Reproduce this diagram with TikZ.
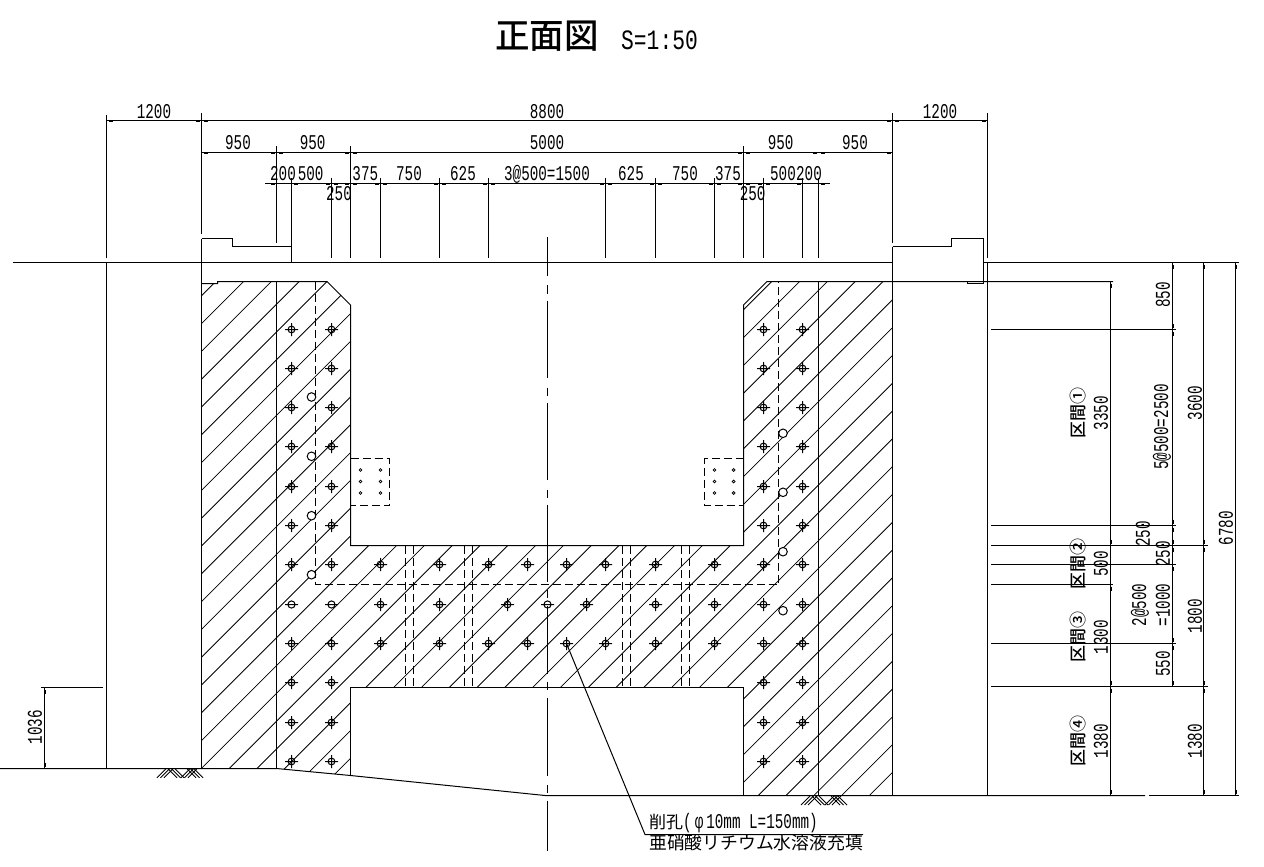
\documentclass[tikz,border=0pt]{standalone}
\usepackage{fontspec}
\newfontfamily\cad[FakeStretch=0.68]{Liberation Mono}
\newfontfamily\cadw[FakeStretch=0.76]{Liberation Mono}
\newfontfamily\cjk{Noto Sans CJK JP}
\newfontfamily\cjkm{Noto Sans CJK JP Medium}
\tikzset{
  ln/.style={line width=1pt,line cap=butt},
  hatchln/.style={line width=0.8pt},
  hid/.style={line width=1pt,dash pattern=on 8pt off 4pt},
  cen/.style={line width=1pt},
  dimt/.style={inner sep=0pt,font=\cad\fontsize{21}{21}\selectfont},
  jpt/.style={inner sep=0pt,font=\cjkm\fontsize{17}{17}\selectfont},
  tick/.style={line width=2pt},
}
\newcommand{\hxL}[2]{\foreach \q in {#2}{\draw[tick] (\q-6,#1)--(\q-2,#1);}}
\newcommand{\hxR}[2]{\foreach \q in {#2}{\draw[tick] (\q+2,#1)--(\q+6,#1);}}
\newcommand{\vxU}[2]{\foreach \q in {#2}{\draw[tick] (#1,\q-6)--(#1,\q-2);}}
\newcommand{\vxD}[2]{\foreach \q in {#2}{\draw[tick] (#1,\q+2)--(#1,\q+6);}}
\newcommand{\holeplus}[2]{\draw[line width=1pt] (#1,#2) circle[radius=3.4pt] (#1-6.5,#2)--(#1+6.5,#2) (#1,#2-6.5)--(#1,#2+6.5);}
\newcommand{\holeminus}[2]{\draw[line width=1pt] (#1,#2) circle[radius=3.6pt] (#1-6.5,#2)--(#1+6.5,#2);}
\newcommand{\groundmark}[2]{\begin{scope}[shift={(#1,#2)},line width=0.8pt]
  \foreach \d in {0,3.5,7,24,27.5,31}{\draw (\d,9)--(\d+9,0);}
  \foreach \d in {11,14.5,18,30,33.5,37}{\draw (\d,0)--(\d+9,9);}
\end{scope}}
\begin{document}
\begin{tikzpicture}[x=1pt,y=-1pt]
\useasboundingbox (0,0) rectangle (1264,867);
\fill[white] (0,0) rectangle (1264,867);
% hatching
\begin{scope}
\clip (201.5,283.5)--(217.5,283.5)--(217.5,281.5)--(327,281.5)--(350.5,305)--(350.5,545.5)--(743.5,545.5)--(743.5,305)--(767,281.5)--(892.5,281.5)--(892.5,795.5)--(743.5,795.5)--(743.5,687.5)--(350.5,687.5)--(350.5,775.5)--(276.5,768.5)--(201.5,768.5)--cycle;
\foreach \k in {-16,...,28}{
  \pgfmathsetmacro{\s}{914.3+27.8*\k}
  \draw[hatchln] (\s-270,270)--(\s-800,800);
}
\end{scope}
% ground and structure
\draw[ln] (13,262.5)--(892.5,262.5);
\draw[ln] (983.5,262.5)--(1239,262.5);
\draw[ln] (0,768.5)--(276.5,768.5)--(350.5,775.5)--(545,795.5)--(1145,795.5);
\draw[ln] (1149,795.5)--(1239,795.5);
\draw[ln] (201.5,113)--(201.5,234);
\draw[ln] (201.5,238.5)--(201.5,768.5);
\draw[ln] (201.5,238.5)--(232.5,238.5)--(232.5,246.5)--(291.5,246.5)--(291.5,262.5);
\draw[ln] (892.5,113)--(892.5,243);
\draw[ln] (892.5,246.5)--(892.5,795.5);
\draw[ln] (892.5,246.5)--(951.5,246.5)--(951.5,238.5)--(983.5,238.5)--(983.5,283.5)--(967.5,283.5)--(967.5,281.5);
\draw[ln] (201.5,283.5)--(217.5,283.5)--(217.5,281.5)--(327,281.5)--(350.5,305)--(350.5,545.5)--(743.5,545.5)--(743.5,305)--(767,281.5)--(1113,281.5);
\draw[ln] (350.5,775.5)--(350.5,687.5)--(743.5,687.5)--(743.5,795.5);
\draw[ln] (276.5,146)--(276.5,243);
\draw[ln] (276.5,281.5)--(276.5,768.5);
\draw[ln] (818.5,178)--(818.5,258);
\draw[ln] (818.5,281.5)--(818.5,795.5);
\draw[ln] (106.5,115)--(106.5,257.5);
\draw[ln] (106.5,262.5)--(106.5,768.5);
\draw[ln] (987.5,113)--(987.5,258);
\draw[ln] (987.5,262.5)--(987.5,795.5);
% extension lines at the top
\draw[ln] (350.5,146)--(350.5,258);
\draw[ln] (743.5,146)--(743.5,258);
\draw[ln] (291.5,178)--(291.5,246.5);
\foreach \x in {331.5,380.5,439.5,488.5,605.5,655.5,714.5,763.5,802.5}{\draw[ln] (\x,178)--(\x,258);}
% dimension lines at the top
\draw[ln] (106.5,120.5)--(987.5,120.5);
\draw[ln] (201.5,152.5)--(892.5,152.5);
\draw[ln] (265,183.5)--(830,183.5);
\hxR{120.5}{106.5,201.5,892.5}\hxL{120.5}{201.5,892.5,987.5}
\hxR{152.5}{201.5,276.5,350.5,743.5,818.5}\hxL{152.5}{276.5,350.5,743.5,818.5,892.5}
\hxL{183.5}{276.5,331.5,350.5,380.5,439.5,488.5,605.5,655.5,714.5,743.5,763.5,802.5}
\hxR{183.5}{291.5,331.5,350.5,380.5,439.5,488.5,605.5,655.5,714.5,743.5,763.5,818.5}
% dimension lines on the right
\foreach \y/\e in {329.5/1176,525.5/1176,545.5/1208,564.5/1176,584.5/1113,643.5/1176,686.5/1208}{\draw[ln] (991,\y)--(\e,\y);}
\draw[ln] (1110.5,281.5)--(1110.5,795.5);
\draw[ln] (1172.5,262.5)--(1172.5,686.5);
\draw[ln] (1203.5,262.5)--(1203.5,795.5);
\draw[ln] (1235.5,262.5)--(1235.5,795.5);
\vxD{1110.5}{281.5,584.5,686.5}\vxU{1110.5}{545.5,686.5,795.5}
\vxD{1172.5}{262.5,329.5,525.5,545.5,564.5,643.5}\vxU{1172.5}{329.5,525.5,545.5,643.5,686.5}
\vxD{1203.5}{262.5,545.5,686.5}\vxU{1203.5}{545.5,686.5,795.5}
\vxD{1235.5}{262.5}\vxU{1235.5}{795.5}
% left dimension
\draw[ln] (41,687.5)--(103,687.5);
\draw[ln] (44.5,687.5)--(44.5,768.5);
\vxD{44.5}{687.5}\vxU{44.5}{768.5}
% hidden lines
\draw[hid] (315.5,281.5)--(315.5,584.5)--(778.5,584.5)--(778.5,281.5);
\foreach \x in {405.5,413.5,464.5,472.5,622.5,630.5,681.5,689.5}{\draw[hid] (\x,545.5)--(\x,687.5);}
\draw[hid] (350.5,458.5)--(389.5,458.5)--(389.5,505.5)--(350.5,505.5);
\draw[hid] (743.5,458.5)--(704.5,458.5)--(704.5,505.5)--(743.5,505.5);
\foreach \x in {360.5,380.5,714.5,733.7}{\foreach \y in {470,481.5,493}{\draw[line width=0.8pt] (\x,\y) circle[radius=1.4pt];}}
% centre line
\foreach \a/\b in {237/276,285.4/293.6,300.5/378,387.5/395.6,402.6/480,489.5/497.6,504.6/582,590/598,606/674,682/690,697.6/776,785/792.5,800.5/851}{\draw[cen] (547.5,\a)--(547.5,\b);}
% holes
\foreach \x in {291.5,331.5,763.5,802.5}{\foreach \y in {329.5,368.5,407.5,446.5,486.5,525.5,564.5,643.5,682.5,722.5,761.5}{\holeplus{\x}{\y}}}
\foreach \x in {763.5,802.5}{\holeplus{\x}{604.5}}
\foreach \x in {291.5,331.5,547.5}{\holeminus{\x}{604.5}}
\foreach \x in {380.5,439.5,488.5,527.5,566.5,605.5,655.5,714.5}{\holeplus{\x}{564.5}\holeplus{\x}{643.5}}
\foreach \x in {380.5,439.5,507.5,586.5,655.5,714.5}{\holeplus{\x}{604.5}}
\foreach \x/\y in {311.5/397,311.5/456.3,311.5/515.7,311.5/574.7,783/433.3,783/492.3,783/551.7,783/610.7}{\draw[line width=1pt,fill=white] (\x,\y) circle[radius=4.3pt];}
% ground marks
\groundmark{157}{768.8}
\groundmark{801}{796}
% leader
\coordinate (lead) at (566.5,643.5);
\draw[ln] (lead)--(645,834.5)--(863,834.5);
% labels
\node[inner sep=0pt,anchor=west,font=\cjkm\fontsize{34.5}{34.5}\selectfont] (title) at (495,36) {正面図};
\node[inner sep=0pt,anchor=west,font=\cadw\fontsize{28}{28}\selectfont] (scale) at (621,40) {S=1:50};
\foreach \x/\y/\t [count=\i] in {154/111.5/1200,547/111.5/8800,940/111.5/1200,
  238/143/950,312.7/143/950,547/143/5000,780.7/143/950,855/143/950,
  283/174/200,310.7/174/500,365.3/174/375,409/174/750,463/174/625,547/174/3@500=1500,631/174/625,685/174/750,728/174/375,783/174/500,809/174/200,
  339/193.5/250,752.7/193.5/250}
  {\node[dimt] (dh\i) at (\x,\y) {\t};}
\foreach \x/\y/\t [count=\i] in {35/727/1036,1163/295/850,1162/427/5@500=2500,1195/403/3600,1226/528/6780,1101/413/3350,1143/534/250,1163/554/250,1101/564/500,1140/605/2@500,1163/605/=1000,1195/616/1800,1101/637/1300,1163/664/550,1101/741/1380,1195/741/1380}
  {\node[dimt,rotate=90] (dv\i) at (\x,\y) {\t};}
\foreach \y/\t [count=\i] in {413/区間①,564/区間②,637/区間③,741/区間④}
  {\node[jpt,rotate=90] (sec\i) at (1078,\y) {\t};}
\node[inner sep=0pt,anchor=west] (note1) at (649,823) {{\cjk\fontsize{17}{17}\selectfont 削孔}{\cad\fontsize{21}{21}\selectfont (\hspace{3pt}φ\hspace{3pt}10mm L=150mm)}};
\node[inner sep=0pt,anchor=west,font=\cjk\fontsize{17.8}{17.8}\selectfont] (note2) at (649,843) {亜硝酸リチウム水溶液充填};
\end{tikzpicture}
\end{document}
